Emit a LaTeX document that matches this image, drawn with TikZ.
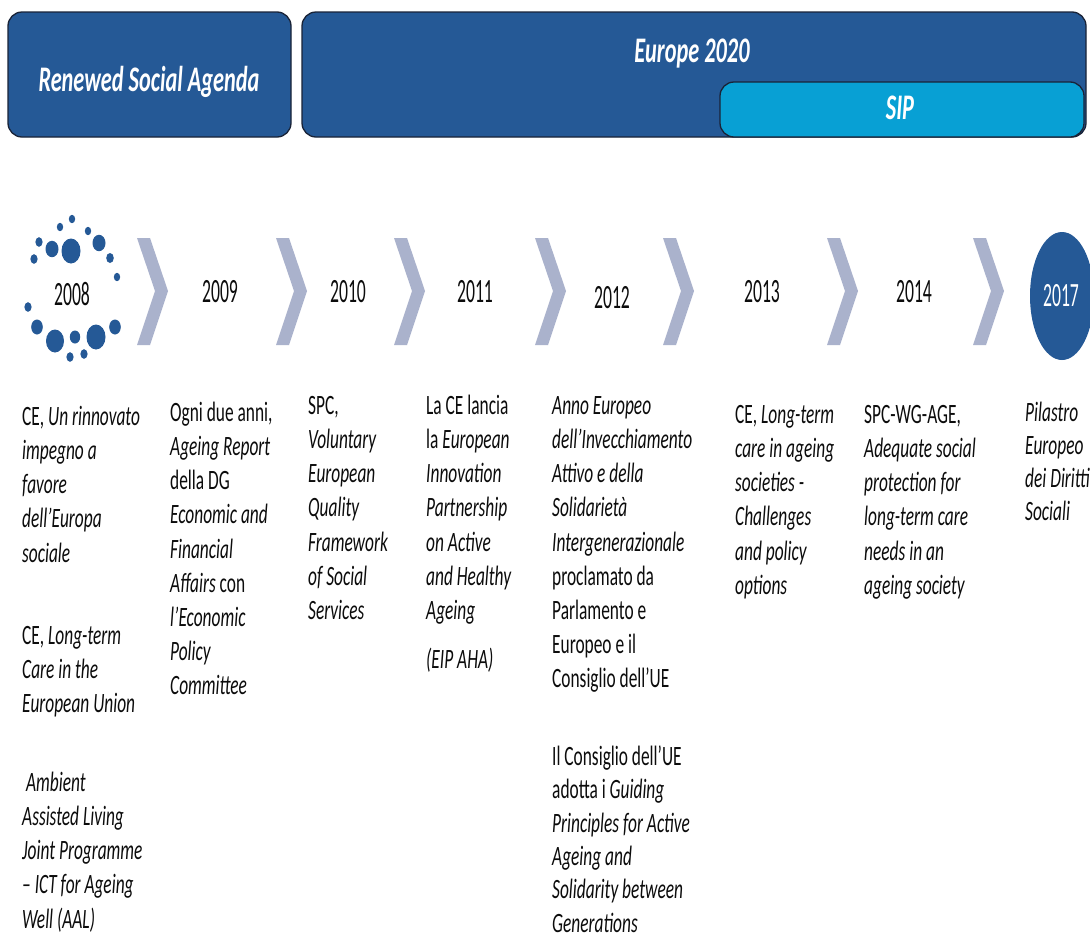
\documentclass[tikz,border=0pt]{standalone}
\usepackage{fontspec}
\setmainfont{Carlito}[FakeStretch=0.62]
\newfontfamily\yearfont{Carlito}[FakeStretch=0.52]
\usetikzlibrary{shapes.geometric}

\definecolor{navy}{RGB}{37,89,150}
\definecolor{sipblue}{RGB}{8,160,212}
\definecolor{chev}{RGB}{170,178,204}
\definecolor{edge}{RGB}{25,35,55}
\definecolor{ink}{RGB}{12,12,12}
% fixes the height of the first line of each text block
\newcommand\lnstrut{\rule{0pt}{21pt}}

\begin{document}
\begin{tikzpicture}[x=1pt,y=-1pt,
  banner/.style={rectangle,draw=edge,line width=1.3pt,fill=navy,rounded corners=14pt,inner sep=0pt},
  sipbox/.style={banner,fill=sipblue},
  bannertext/.style={anchor=base,inner sep=0pt,text=white,font=\fontsize{36}{40}\selectfont\bfseries\itshape},
  yearlabel/.style={inner sep=0pt,text=ink,font=\yearfont\fontsize{34}{36}\selectfont},
  entry/.style={anchor=north west,inner sep=0pt,align=left,text=ink,font=\fontsize{28}{34.2}\selectfont},
  chevron/.style={fill=chev},
  dot/.style={fill=navy}]

\useasboundingbox (0,0) rectangle (1090,940);
\clip (0,0) rectangle (1090,940);
\fill[white] (0,0) rectangle (1090,940);

% programme banners
\node[banner,minimum width=283pt,minimum height=125pt] (rsa) at (149.5,74.5) {};
\node[bannertext] (rsatext) at (149,91) {Renewed Social Agenda};
\node[banner,minimum width=784pt,minimum height=125pt] (eu2020) at (694,74.5) {};
\node[bannertext] (eu2020text) at (692,62) {Europe 2020};
\node[sipbox,minimum width=364pt,minimum height=55pt] (sip) at (902,109.5) {};
\node[bannertext] (siptext) at (900,119) {SIP};

% chevrons between the years
\foreach \cx in {137,276,394,535,663,827,973}
  \fill[chevron] (\cx,238) -- ++(13,0) -- ++(18,53) -- ++(-18,54) -- ++(-13,0) -- ++(18,-54) -- cycle;

% ring of dots round 2008
\foreach \px/\py/\rx/\ry in {72/219/3.2/4.2, 60/227/3.2/4.2, 88/231/3.2/4.2, 39/242/3.6/4.8,
    52/249/6.5/8.2, 71/251/9.5/12.5, 99/243/6.5/8.2, 110/258/3.8/5, 34/259/3.6/4.8, 117/277/3.2/4.2,
    28/307/3.6/4.8, 37/327/5.8/7.5, 115/327/5.8/7.5, 55/341/9/11.5, 75/337/5.2/6.5, 96/337/9.5/12.5,
    70/357/3.6/4.8, 84/354/3.6/4.8}
  \fill[dot] (\px,\py) ellipse [x radius=\rx pt, y radius=\ry pt];

% years
\node[yearlabel] (y2008) at (72,294) {2008};
\node[yearlabel] (y2009) at (220,292) {2009};
\node[yearlabel] (y2010) at (348,292) {2010};
\node[yearlabel] (y2011) at (475,292) {2011};
\node[yearlabel] (y2012) at (612,298) {2012};
\node[yearlabel] (y2013) at (762,292) {2013};
\node[yearlabel] (y2014) at (914,292) {2014};
\node[ellipse,fill=navy,minimum width=64pt,minimum height=128pt,inner sep=0pt] (c2017) at (1062,296) {};
\node[yearlabel,text=white] (y2017) at (1061,296) {2017};

% events of each year
\node[entry] (e2008a) at (22,404) {\lnstrut CE, \textit{Un rinnovato}\\ \textit{impegno a}\\ \textit{favore}\\ \textit{dell’Europa}\\ \textit{sociale}};
\node[entry] (e2008b) at (22,623) {\lnstrut CE, \textit{Long-term}\\ \textit{Care in the}\\ \textit{European Union}};
\node[entry] (e2008c) at (22,770) {\lnstrut\textit{\ Ambient}\\ \textit{Assisted Living}\\ \textit{Joint Programme}\\ \textit{– ICT for Ageing}\\ \textit{Well (AAL)}};
\node[entry] (e2009) at (170,400) {\lnstrut Ogni due anni,\\ \textit{Ageing Report}\\ della DG\\ \textit{Economic and}\\ \textit{Financial}\\ \textit{Affairs} con\\ \textit{l'Economic}\\ \textit{Policy}\\ \textit{Committee}};
\node[entry] (e2010) at (308,393) {\lnstrut SPC,\\ \textit{Voluntary}\\ \textit{European}\\ \textit{Quality}\\ \textit{Framework}\\ \textit{of Social}\\ \textit{Services}};
\node[entry] (e2011a) at (426,393) {\lnstrut La CE lancia\\ la \textit{European}\\ \textit{Innovation}\\ \textit{Partnership}\\ \textit{on Active}\\ \textit{and Healthy}\\ \textit{Ageing}};
\node[entry] (e2011b) at (426,647) {\lnstrut\textit{(EIP AHA)}};
\node[entry] (e2012a) at (552,393) {\lnstrut\textit{Anno Europeo}\\ \textit{dell’Invecchiamento}\\ \textit{Attivo e della}\\ \textit{Solidarietà}\\ \textit{Intergenerazionale}\\ proclamato da\\ Parlamento e\\ Europeo e il\\ Consiglio dell'UE};
\node[entry,font=\fontsize{28}{33.4}\selectfont] (e2012b) at (552,744) {\lnstrut Il Consiglio dell'UE\\ adotta i \textit{Guiding}\\ \textit{Principles for Active}\\ \textit{Ageing and}\\ \textit{Solidarity between}\\ \textit{Generations}};
\node[entry] (e2013) at (735,402) {\lnstrut CE, \textit{Long-term}\\ \textit{care in ageing}\\ \textit{societies -}\\ \textit{Challenges}\\ \textit{and policy}\\ \textit{options}};
\node[entry] (e2014) at (864,402) {\lnstrut SPC-WG-AGE,\\ \textit{Adequate social}\\ \textit{protection for}\\ \textit{long-term care}\\ \textit{needs in an}\\ \textit{ageing society}};
\node[entry,font=\fontsize{28}{33}\selectfont] (e2017) at (1025,400) {\lnstrut\textit{Pilastro}\\ \textit{Europeo}\\ \textit{dei Diritti}\\ \textit{Sociali}};
\end{tikzpicture}
\end{document}
